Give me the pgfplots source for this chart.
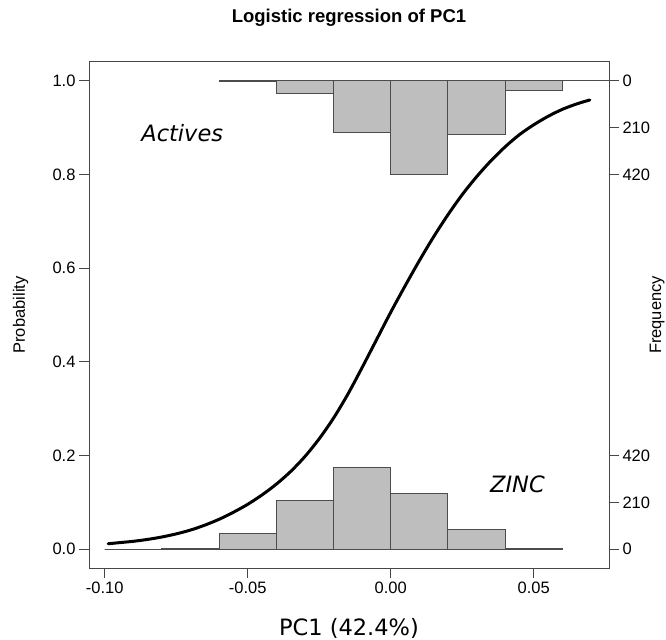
\documentclass[border=0pt]{standalone}
\usepackage{fontspec}
\setmainfont{Liberation Sans}
\newfontfamily\dejavu{DejaVu Sans}
\usepackage{pgfplots}
\usepackage{pgfplotstable}
\pgfplotsset{compat=1.18}
\definecolor{histgray}{RGB}{190,190,190}
\definecolor{boxgray}{RGB}{70,70,70}
\tikzset{lab/.style={font=\fontsize{16.5bp}{19bp}\selectfont}}

% ZINC histogram (counts per bin of width 0.02, left edges)
\pgfplotstableread{
x count
-0.10 0
-0.08 5
-0.06 72
-0.04 220
-0.02 366
0.00 248
0.02 87
0.04 3
0.06 0
}\zinc
% Actives histogram (counts, hanging from the top)
\pgfplotstableread{
x count
-0.06 2
-0.04 57
-0.02 231
0.00 420
0.02 242
0.04 44
0.06 0
0.08 0
}\actives
% fitted logistic curve
\pgfplotstableread{
x p
-0.0988 0.0118
-0.0950 0.0140
-0.0900 0.0170
-0.0850 0.0210
-0.0800 0.0262
-0.0750 0.0328
-0.0700 0.0410
-0.0650 0.0515
-0.0600 0.0640
-0.0550 0.0790
-0.0500 0.0960
-0.0450 0.1160
-0.0400 0.1390
-0.0350 0.1660
-0.0300 0.1980
-0.0250 0.2360
-0.0200 0.2800
-0.0150 0.3310
-0.0100 0.3880
-0.0050 0.4470
0.0000 0.5060
0.0050 0.5620
0.0100 0.6160
0.0150 0.6670
0.0200 0.7140
0.0250 0.7570
0.0300 0.7950
0.0350 0.8290
0.0400 0.8590
0.0450 0.8850
0.0500 0.9060
0.0550 0.9240
0.0600 0.9390
0.0650 0.9505
0.0696 0.9590
}\curve

\begin{document}
\begin{tikzpicture}
\path[use as bounding box] (0,0) rectangle (666bp,640bp);
\pgfplotsset{
  base/.style={scale only axis, width=520bp, height=506bp,
    at={(89bp,72bp)}, anchor=south west, xmin=-0.1055, xmax=0.0763},
}
\begin{axis}[base, hide axis, ymin=-84, ymax=2184]
  \addplot[ybar interval, fill=histgray, draw=black!70, line width=1bp]
    table[x=x, y=count] {\zinc};
\end{axis}
\begin{axis}[base, hide axis, y dir=reverse, ymin=-84, ymax=2184]
  \addplot[ybar interval, fill=histgray, draw=black!70, line width=1bp]
    table[x=x, y=count] {\actives};
\end{axis}
\begin{axis}[base, ymin=-0.04, ymax=1.04,
  xtick={-0.1,-0.05,0,0.05}, xticklabels={-0.10,-0.05,0.00,0.05},
  ytick={0,0.2,0.4,0.6,0.8,1}, yticklabels={0.0,0.2,0.4,0.6,0.8,1.0},
  xtick pos=left, ytick pos=left, tick align=outside,
  major tick length=10bp,
  axis line style={boxgray, line width=1bp},
  every tick/.style={boxgray, line width=1bp},
  tick label style={lab, text=black},
  title={Logistic regression of PC1},
  title style={font=\fontsize{18.5bp}{21bp}\selectfont\bfseries,
    at={(axis description cs:0.5,1)}, anchor=base, yshift=34bp},
  xlabel={PC1 (42.4\%)},
  xlabel style={font=\dejavu\fontsize{22.5bp}{26bp}\selectfont,
    at={(axis description cs:0.5,0)}, anchor=base, yshift=-67bp},
  ylabel={Probability},
  ylabel style={lab, at={(axis description cs:-0.1231,0.5)}, anchor=base},
]
  \addplot[black, line width=3bp, smooth, line cap=round] table[x=x, y=p] {\curve};
  \node[font=\dejavu\itshape\fontsize{22.5bp}{26bp}\selectfont] at (axis cs:-0.0729,0.888) {Actives};
  \node[font=\dejavu\itshape\fontsize{22.5bp}{26bp}\selectfont] at (axis cs:0.0443,0.1394) {ZINC};
\end{axis}
\begin{axis}[base, ymin=-0.04, ymax=1.04,
  axis x line=none, axis y line*=right,
  ytick={0,0.1,0.2,0.8,0.9,1}, yticklabels={0,210,420,420,210,0},
  tick align=outside, major tick length=10bp,
  axis line style={boxgray, line width=1bp},
  every tick/.style={boxgray, line width=1bp},
  tick label style={lab, text=black},
  ylabel={Frequency},
  ylabel style={lab, at={(axis description cs:1.1,0.5)}, anchor=base},
]
\end{axis}
\end{tikzpicture}
\end{document}
